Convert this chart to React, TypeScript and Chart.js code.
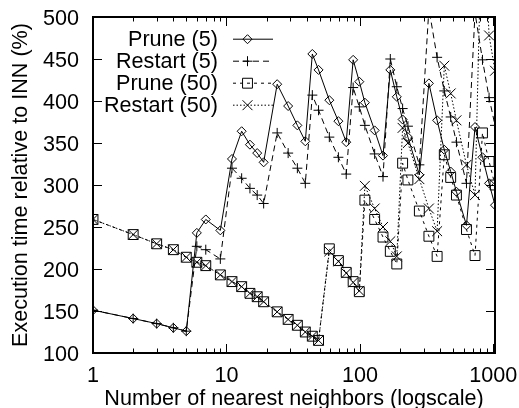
import React, { useEffect, useRef } from "react";
import { Chart, registerables } from "chart.js";

Chart.register(...registerables);

// number of nearest neighbors (x, log scale)
const kValues = [
  1, 2, 3, 4, 5, 6, 7, 9, 11, 13, 15, 17, 19, 24, 29, 34, 39, 44, 49,
  59, 69, 79, 89, 99, 109, 129, 149, 169, 189, 209, 229,
  279, 329, 379, 429, 479, 529, 629, 729, 829, 929, 1029,
];

// execution time relative to INN (%)
const prune5 = [
  151, 141, 135, 130, 126, 243, 259, 246, 331, 364, 348, 338, 327, 420, 394, 371, 352, 456, 437,
  401, 376, 351, 449, 423, 398, 365, 335, 437, 405, 378, 357,
  312, 421, 377, 342, 316, 292, 252, 369, 333, 302, 276,
];
const restart5 = [
  151, 141, 135, 130, 126, 227, 223, 212, 320, 308, 296, 288, 278, 362, 338, 320, 302, 407, 389,
  357, 333, 313, 416, 393, 371, 337, 310, 450, 417, 391, 370,
  324, 510, 452, 412, 381, 351, 302, 505, 449, 404, 371,
];
const prune50 = [
  259, 241, 230, 223, 214, 208, 204, 193, 185, 179, 171, 167, 161, 149, 140, 133, 125, 120, 115,
  224, 210, 196, 185, 173, 282, 259, 238, 221, 206, 326, 306,
  269, 239, 215, 336, 309, 288, 247, 216, 362, 328, 300,
];
const restart50 = [
  259, 241, 230, 223, 214, 208, 204, 193, 185, 179, 171, 167, 161, 149, 140, 133, 125, 120, 115,
  221, 209, 195, 184, 174, 299, 272, 250, 233, 215, 368, 350,
  307, 272, 245, 442, 409, 377, 324, 288, 650, 478, 436,
];

const seriesLabels = ["Prune (5)", "Restart (5)", "Prune (50)", "Restart (50)"];
const xTickValues = [1, 10, 100, 1000];
const yTickValues = [100, 150, 200, 250, 300, 350, 400, 450, 500];
const X_MIN = 1;
const X_MAX = 1029;
const Y_MIN = 100;
const Y_MAX = 500;

const FONT = "'Liberation Sans', Arial, Helvetica, sans-serif";
const FS = 21.6;

type Style = { pointStyle: string; radius: number; dash: number[] };
const styles: Style[] = [
  { pointStyle: "rectRot", radius: 4.5, dash: [] },
  { pointStyle: "cross", radius: 5, dash: [6, 4] },
  { pointStyle: "rect", radius: 7, dash: [3, 4] },
  { pointStyle: "crossRot", radius: 7, dash: [1.5, 2] },
];

function drawMarker(ctx: CanvasRenderingContext2D, style: string, x: number, y: number, r: number) {
  ctx.beginPath();
  if (style === "rectRot") {
    ctx.moveTo(x - r, y);
    ctx.lineTo(x, y - r);
    ctx.lineTo(x + r, y);
    ctx.lineTo(x, y + r);
    ctx.closePath();
  } else if (style === "cross") {
    ctx.moveTo(x - r, y);
    ctx.lineTo(x + r, y);
    ctx.moveTo(x, y - r);
    ctx.lineTo(x, y + r);
  } else if (style === "rect") {
    const s = Math.SQRT1_2 * r;
    ctx.rect(x - s, y - s, 2 * s, 2 * s);
  } else {
    const s = Math.SQRT1_2 * r;
    ctx.moveTo(x - s, y - s);
    ctx.lineTo(x + s, y + s);
    ctx.moveTo(x + s, y - s);
    ctx.lineTo(x - s, y + s);
  }
  ctx.stroke();
}

export default function App() {
  const ref = useRef<HTMLCanvasElement | null>(null);

  useEffect(() => {
    document.body.style.margin = "0";
    const canvas = ref.current;
    if (!canvas) return;
    const allSeries = [prune5, restart5, prune50, restart50];

    const decor = {
      id: "gnuplotDecor",
      afterDraw(chart: any) {
        const ctx: CanvasRenderingContext2D = chart.ctx;
        const { left, right, top, bottom } = chart.chartArea;
        const xs = chart.scales.x;
        const ys = chart.scales.y;
        ctx.save();
        ctx.strokeStyle = "#000";
        ctx.fillStyle = "#000";
        ctx.setLineDash([]);
        // ticks
        ctx.lineWidth = 1;
        ctx.beginPath();
        for (const v of yTickValues) {
          const py = Math.round(ys.getPixelForValue(v)) + 0.5;
          ctx.moveTo(left, py);
          ctx.lineTo(left + 9, py);
          ctx.moveTo(right, py);
          ctx.lineTo(right - 9, py);
        }
        for (let d = 1; d <= 1000; d *= 10) {
          for (let m = 1; m <= 9; m++) {
            const v = m * d;
            if (v > X_MAX) continue;
            const px = Math.round(xs.getPixelForValue(v)) + 0.5;
            const len = m === 1 ? 9 : 4.5;
            ctx.moveTo(px, bottom);
            ctx.lineTo(px, bottom - len);
            ctx.moveTo(px, top);
            ctx.lineTo(px, top + len);
          }
        }
        ctx.stroke();
        // border
        ctx.lineWidth = 2;
        ctx.strokeRect(left, top, right - left, bottom - top);

        // tick labels
        ctx.font = `${FS}px ${FONT}`;
        ctx.textAlign = "right";
        ctx.textBaseline = "alphabetic";
        for (const v of yTickValues) {
          ctx.fillText(String(v), left - 14, ys.getPixelForValue(v) + 7.8);
        }
        ctx.textAlign = "center";
        for (const v of xTickValues) {
          ctx.fillText(String(v), xs.getPixelForValue(v), 381.5);
        }

        // axis titles
        ctx.fillText("Number of nearest neighbors (logscale)", (left + right) / 2, 404.5);
        ctx.save();
        ctx.translate(27, (top + bottom) / 2);
        ctx.rotate(-Math.PI / 2);
        ctx.fillText("Execution time relative to INN (%)", 0, 0);
        ctx.restore();

        // legend
        ctx.textAlign = "right";
        for (let i = 0; i < seriesLabels.length; i++) {
          const base = 46 + i * 22;
          const ly = base - 6.8;
          ctx.fillText(seriesLabels[i], 218, base);
          ctx.lineWidth = 1;
          ctx.setLineDash(styles[i].dash);
          ctx.beginPath();
          ctx.moveTo(233, ly);
          ctx.lineTo(273, ly);
          ctx.stroke();
          ctx.setLineDash([]);
          drawMarker(ctx, styles[i].pointStyle, 247.5, ly, styles[i].radius);
        }
        ctx.restore();
      },
    };

    const chart = new Chart(canvas, {
      type: "line",
      data: {
        datasets: allSeries.map((vals, i) => ({
          label: seriesLabels[i],
          data: kValues.map((k, j) => ({ x: k, y: vals[j] })),
          borderColor: "#000",
          borderWidth: 1,
          borderDash: styles[i].dash,
          pointStyle: styles[i].pointStyle as any,
          pointRadius: styles[i].radius,
          pointBorderColor: "#000",
          pointBackgroundColor: "rgba(0,0,0,0)",
          pointBorderWidth: 1,
          tension: 0,
          fill: false,
        })),
      },
      options: {
        responsive: false,
        animation: false,
        devicePixelRatio: 1,
        layout: { padding: { top: 17, right: 24, left: 0, bottom: 0 } },
        plugins: { legend: { display: false }, tooltip: { enabled: false } },
        scales: {
          x: {
            type: "logarithmic",
            min: X_MIN,
            max: X_MAX,
            grid: { display: false, drawTicks: false },
            border: { display: false },
            ticks: { display: false },
            afterBuildTicks: (s: any) => {
              s.ticks = xTickValues.map((v) => ({ value: v }));
            },
            afterFit: (s: any) => {
              s.height = 55;
            },
          },
          y: {
            type: "linear",
            min: Y_MIN,
            max: Y_MAX,
            grid: { display: false, drawTicks: false },
            border: { display: false },
            ticks: { display: false },
            afterBuildTicks: (s: any) => {
              s.ticks = yTickValues.map((v) => ({ value: v }));
            },
            afterFit: (s: any) => {
              s.width = 93;
            },
          },
        },
      },
      plugins: [decor],
    } as any);

    return () => chart.destroy();
  }, []);

  return <canvas ref={ref} width={519} height={408} style={{ display: "block" }} />;
}
